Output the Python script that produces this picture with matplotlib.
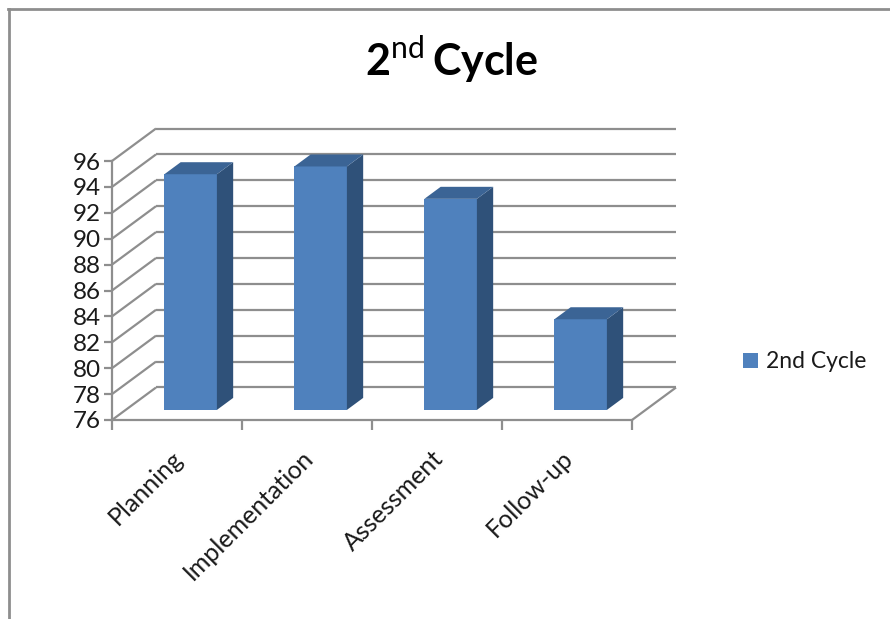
import matplotlib
matplotlib.use("Agg")
import matplotlib.pyplot as plt
from matplotlib.lines import Line2D
from matplotlib.transforms import Affine2D

categories = ["Planning", "Implementation", "Assessment", "Follow-up"]
values = [94.2, 94.8, 92.3, 83.0]
series_name = "2nd Cycle"
y_ticks = list(range(76, 98, 2))
title_text = r"$\mathbf{2}^{\mathrm{nd}}\,\mathbf{Cycle}$"

W, H = 890, 619
plt.rcParams["font.family"] = ["Lato", "DejaVu Sans"]
plt.rcParams["mathtext.fontset"] = "custom"
plt.rcParams["mathtext.rm"] = "Lato"
plt.rcParams["mathtext.bf"] = "Lato:bold"

fig = plt.figure(figsize=(W / 100, H / 100), dpi=100, facecolor="white")
L, R, T, B = 112, 632, 161, 420
ax = fig.add_axes([L / W, 1 - B / H, (R - L) / W, (B - T) / H])
ax.set_xlim(0, len(categories))
ax.set_ylim(y_ticks[0], y_ticks[-1])
ax.patch.set_alpha(0)

GRID = "#8e8e8e"
LW = 1.6
FRONT, TOP, SIDE = "#4f81bd", "#3b6495", "#2f5179"

# oblique projection: depth 1 = back wall
DX = 44 / 130
DY = 32.5 / 12.95


def proj(x, y, d):
    return x + d * DX, y + d * DY


def seg(p, q):
    ax.plot([p[0], q[0]], [p[1], q[1]], color=GRID, lw=LW, clip_on=False,
            solid_capstyle="butt", zorder=1)


x0, x1 = 0, len(categories)
for v in y_ticks:
    seg(proj(x0, v, 0), proj(x0, v, 1))
    seg(proj(x0, v, 1), proj(x1, v, 1))
seg(proj(x1, y_ticks[0], 0), proj(x1, y_ticks[0], 1))

# bars
BAR_W = 52.5 / 130
D0, D1 = 0.31, 0.68
base = y_ticks[0]
for i, v in enumerate(values):
    c = i + 0.5
    xl, xr = c - BAR_W / 2, c + BAR_W / 2
    fx, fb = proj(c, base, D0)
    _, ft = proj(c, v, D0)
    ax.bar(fx, ft - fb, BAR_W, bottom=fb, color=FRONT, zorder=3, clip_on=False,
           label=series_name if i == 0 else None)
    side = [proj(xr, base, D0), proj(xr, base, D1), proj(xr, v, D1), proj(xr, v, D0)]
    ax.fill(*zip(*side), color=SIDE, lw=0, zorder=3, clip_on=False)
    top = [proj(xl, v, D0), proj(xr, v, D0), proj(xr, v, D1), proj(xl, v, D1)]
    ax.fill(*zip(*top), color=TOP, lw=0, zorder=3, clip_on=False)

# axes
for s in ("top", "right"):
    ax.spines[s].set_visible(False)
for s in ("left", "bottom"):
    ax.spines[s].set_color(GRID)
    ax.spines[s].set_linewidth(LW)
    ax.spines[s].set_zorder(2)
ax.set_yticks(y_ticks)
ax.set_xticks(range(len(categories) + 1))
ax.set_xticklabels([])
ax.set_xticks([i + 0.5 - 0.045 for i in range(len(categories))], minor=True)
ax.set_xticklabels(categories, minor=True, rotation=45, ha="right", va="top",
                   rotation_mode="anchor", fontsize=18, color="#1a1a1a")
ax.tick_params(axis="x", which="minor", length=0, pad=19)
ax.tick_params(axis="x", which="major", length=7, width=LW, color=GRID)
ax.tick_params(axis="y", length=6, width=LW, color=GRID, labelsize=17.5,
               labelcolor="#1a1a1a", pad=2)
for lab in ax.get_yticklabels():
    lab.set_verticalalignment("center_baseline")

# title
ax.text((452 - L) / (R - L) * x1, y_ticks[-1], title_text, fontsize=31, color="black",
        ha="center", va="baseline", clip_on=False,
        transform=ax.transData + Affine2D().translate(0, 161 - 76))

# legend
ax.legend(loc="center left", bbox_to_anchor=(743 / W, 1 - 362 / H),
          bbox_transform=fig.transFigure, frameon=False, fontsize=16.5,
          handlelength=0.66, handleheight=0.66, handletextpad=0.35,
          labelcolor="#1a1a1a", borderpad=0, borderaxespad=0)

# chart border
fig.add_artist(Line2D([8.5 / W, 8.5 / W], [0, 1 - 9 / H], color=GRID, lw=2))
fig.add_artist(Line2D([7.5 / W, 1], [1 - 9 / H, 1 - 9 / H], color=GRID, lw=2))

fig.savefig("out.png", dpi=100, facecolor="white")
